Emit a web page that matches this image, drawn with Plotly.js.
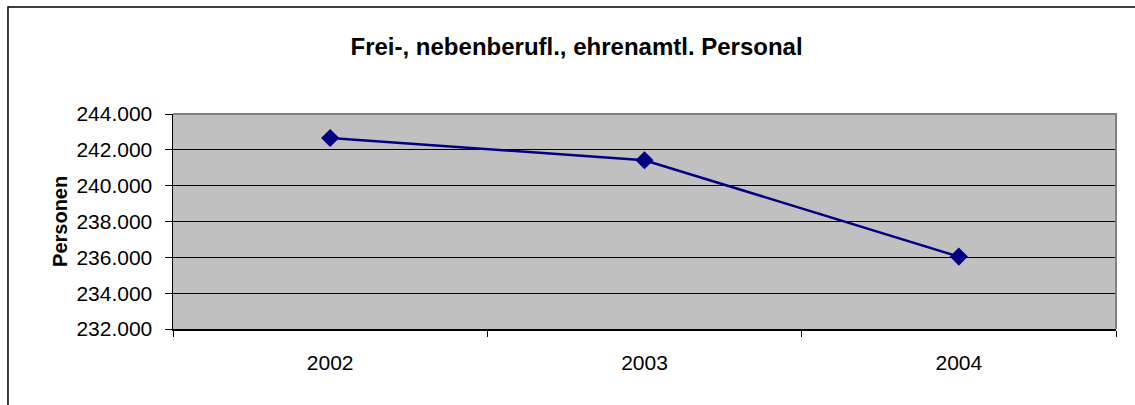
<!DOCTYPE html>
<html>
<head>
<meta charset="utf-8">
<script src="https://cdn.plot.ly/plotly-3.0.1.min.js"></script>
<style>
  html, body { margin: 0; padding: 0; background: #fff; }
  #chart { width: 1135px; height: 405px; }
</style>
</head>
<body>
<div id="chart"></div>
<script>
const jahre = ['2002', '2003', '2004'];
const personen = [242660, 241420, 236040];

const titel = 'Frei-, nebenberufl., ehrenamtl. Personal';
const yTitel = 'Personen';

const trace = {
  x: jahre,
  y: personen,
  type: 'scatter',
  mode: 'lines+markers',
  line: { color: '#000080', width: 2.5 },
  marker: { symbol: 'diamond', size: 14, color: '#000080' },
  showlegend: false,
  hoverinfo: 'x+y'
};

const schrift = 'Arial, "Liberation Sans", sans-serif';

const layout = {
  width: 1135,
  height: 405,
  margin: { l: 173, r: 19, t: 114, b: 76 },
  paper_bgcolor: '#ffffff',
  plot_bgcolor: '#c0c0c0',
  separators: ',.',
  font: { family: schrift, size: 21, color: '#000' },
  title: {
    text: '<b>' + titel + '</b>',
    font: { family: schrift, size: 24, color: '#000' },
    x: 0.508, xref: 'container', xanchor: 'center',
    y: 0.884, yref: 'container', yanchor: 'middle'
  },
  xaxis: {
    type: 'category',
    range: [-0.5, 2.5],
    showline: true, linecolor: '#000', linewidth: 1.5,
    ticks: 'outside', tickson: 'boundaries', ticklen: 6, tickcolor: '#000', tickwidth: 1,
    ticklabelstandoff: 14,
    showgrid: false, zeroline: false,
    tickfont: { family: schrift, size: 21, color: '#000' }
  },
  yaxis: {
    range: [232000, 244000],
    dtick: 2000,
    tickformat: ',d',
    showline: true, linecolor: '#000', linewidth: 1.5,
    ticks: 'outside', ticklen: 7, tickcolor: '#000', tickwidth: 1,
    ticklabelstandoff: 8,
    showgrid: true, gridcolor: '#000', gridwidth: 1,
    zeroline: false,
    tickfont: { family: schrift, size: 21, color: '#000' }
  },
  annotations: [{
    text: '<b>' + yTitel + '</b>',
    xref: 'paper', yref: 'paper',
    x: -0.1198, y: 0.498,
    xanchor: 'center', yanchor: 'middle',
    textangle: -90, showarrow: false,
    font: { family: schrift, size: 20, color: '#000' }
  }],
  shapes: [
    {
      // grauer Rahmen oben und rechts
      type: 'path', xref: 'paper', yref: 'paper',
      path: 'M 0 1 L 1 1 L 1 0',
      line: { color: '#808080', width: 2 },
      layer: 'above'
    },
    {
      // äußerer Diagrammrahmen
      type: 'path', xref: 'paper', yref: 'paper',
      path: 'M -0.175 -0.4 L -0.175 1.498 L 1.05 1.498',
      line: { color: '#000', width: 1.5 },
      layer: 'above'
    }
  ]
};

Plotly.newPlot('chart', [trace], layout, { displayModeBar: false, staticPlot: true });
</script>
</body>
</html>
